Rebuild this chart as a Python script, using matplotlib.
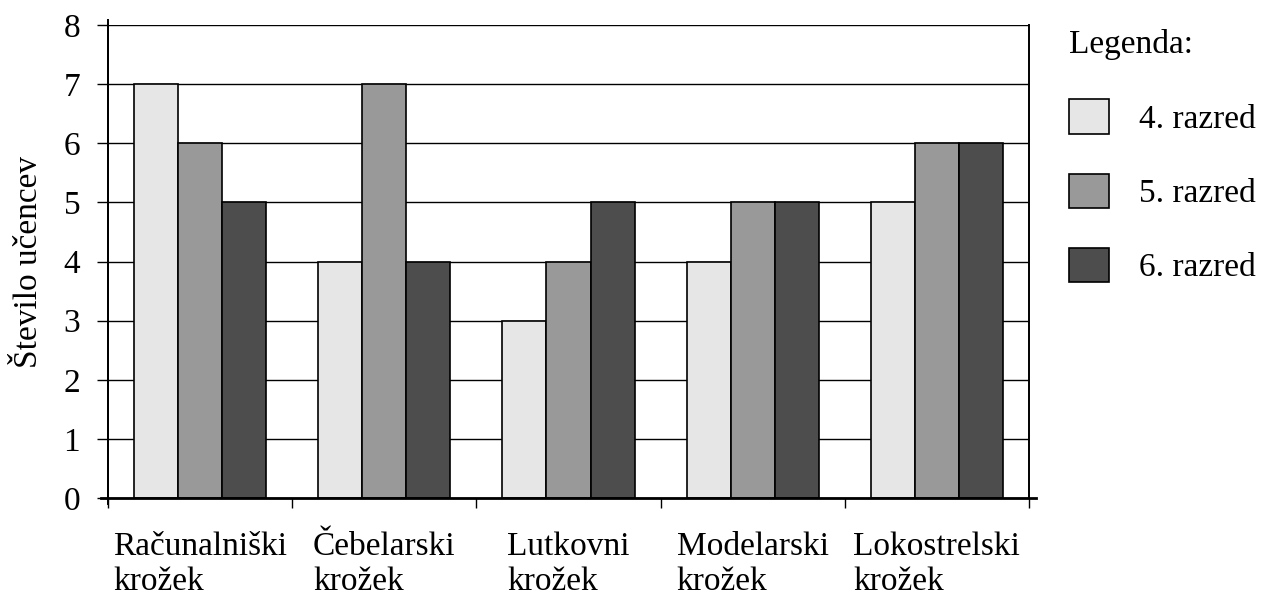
import numpy as np
import matplotlib
matplotlib.use("Agg")
import matplotlib.pyplot as plt
from matplotlib.lines import Line2D

plt.rcParams["font.family"] = ["Liberation Serif", "DejaVu Serif"]

categories = ["Računalniški\nkrožek", "Čebelarski\nkrožek", "Lutkovni\nkrožek",
              "Modelarski\nkrožek", "Lokostrelski\nkrožek"]
series = ["4. razred", "5. razred", "6. razred"]
razred4 = [7, 4, 3, 4, 5]
razred5 = [6, 7, 4, 5, 6]
razred6 = [5, 4, 5, 5, 6]
colors = ["#e6e6e6", "#999999", "#4d4d4d"]

fig = plt.figure(figsize=(12.62, 5.96), dpi=100)
ax = fig.add_axes([108 / 1262, 1 - 498 / 596, (1029 - 108) / 1262, (498 - 25) / 596])

x = np.arange(len(categories)) + 0.5
w = 0.239
for i, (vals, name) in enumerate(zip([razred4, razred5, razred6], series)):
    ax.bar(x + (i - 1) * w, vals, width=w, color=colors[i], edgecolor="black",
           linewidth=1.2, label=name, zorder=3)

ax.set_xlim(0, len(categories))
ax.set_ylim(0, 8)
ax.set_yticks(range(0, 9))
ax.yaxis.grid(True, color="black", linewidth=1, zorder=0)
ax.set_axisbelow(True)

ax.set_xticks(x)
ax.set_xticklabels(categories, fontsize=24, ha="center", multialignment="left",
                   linespacing=1.2)
ax.tick_params(axis="x", which="major", length=0, pad=24)
ax.set_xticks(np.arange(0, len(categories) + 1), minor=True)
ax.tick_params(axis="x", which="minor", length=7, width=1, direction="out")
ax.tick_params(axis="y", length=8, width=1, direction="out", labelsize=24, pad=12)

ax.set_ylabel("Število učencev", fontsize=24, labelpad=14)

ax.spines["top"].set_visible(False)
ax.spines["bottom"].set_visible(False)
ax.spines["left"].set_linewidth(1.4)
ax.spines["right"].set_linewidth(1.4)
ax.add_line(Line2D([-0.008, 1.008], [0, 0], transform=ax.transAxes, color="black",
                   linewidth=2, clip_on=False, zorder=5))
ax.add_line(Line2D([0, 0], [-0.012, 1.01], transform=ax.transAxes, color="black",
                   linewidth=1.4, clip_on=False, zorder=5))

leg = fig.legend(loc="upper left", bbox_to_anchor=(1056 / 1262, 1 - 16 / 596),
                 title="Legenda:", fontsize=24, title_fontsize=24, frameon=False,
                 handlelength=1.2, handleheight=1.2, labelspacing=1.17,
                 handletextpad=0.9, alignment="left", borderaxespad=0)

fig.savefig("out.png", dpi=100)
